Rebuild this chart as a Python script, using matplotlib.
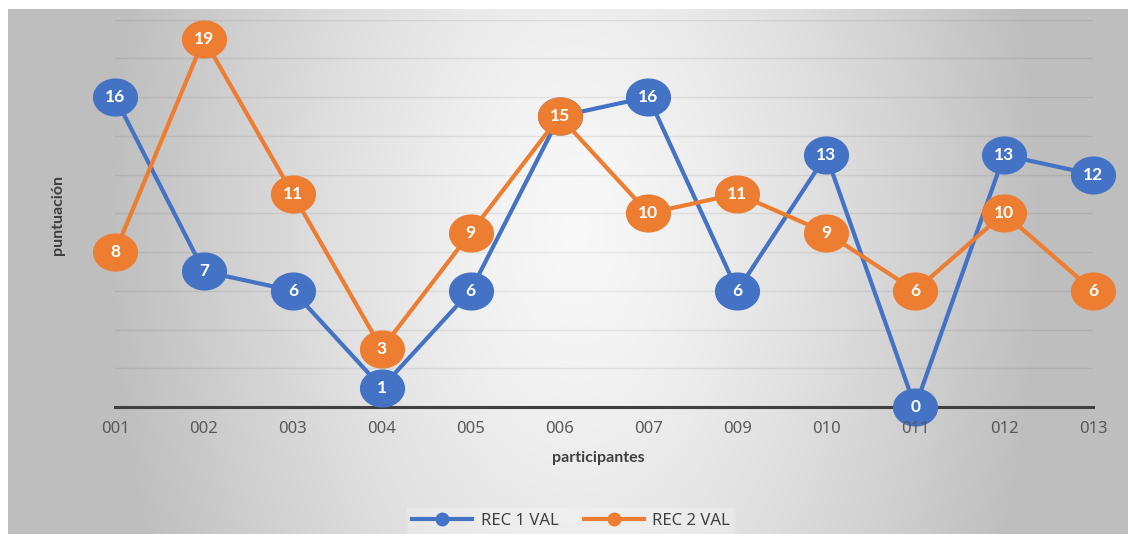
import numpy as np
import matplotlib
matplotlib.use("Agg")
import matplotlib.pyplot as plt
from matplotlib.path import Path
from matplotlib.lines import Line2D

categories = ["001", "002", "003", "004", "005", "006", "007", "009", "010", "011", "012", "013"]
rec1 = [16, 7, 6, 1, 6, 15, 16, 6, 13, 0, 13, 12]
rec2 = [8, 19, 11, 3, 9, 15, 10, 11, 9, 6, 10, 6]
series_names = ["REC 1 VAL", "REC 2 VAL"]
colors = ["#4472C4", "#ED7D31"]

plt.rcParams['font.family'] = ['Noto Sans', 'DejaVu Sans']
BOLD = ['Lato', 'DejaVu Sans']

W, H = 1128, 534
fig = plt.figure(figsize=(W / 100, H / 100), dpi=100)

# background radial gradient
bg = fig.add_axes([8 / W, 0, 1 - 8 / W, (H - 9) / H])
bg.set_axis_off()
xs = np.arange(8, W)
ys = np.arange(9, H)
X, Y = np.meshgrid(xs, ys)
cx, cy, rx, ry = 575, 230, 460, 800
r = np.sqrt(((X - cx) / rx) ** 2 + ((Y - cy) / ry) ** 2)
r = np.clip(r, 0, 1)
v = 0.975 - (0.975 - 0.749) * r ** 1.3
img = np.dstack([v, v, v])
bg.imshow(img, aspect='auto', extent=[0, 1, 0, 1], interpolation='bilinear')
bg.set_xlim(0, 1)
bg.set_ylim(0, 1)

left = 115 / W
right = 1093 / W
bottom = (H - 407) / H
top = (H - 19.5) / H
ax = fig.add_axes([left, bottom, right - left, top - bottom])
ax.patch.set_alpha(0)

x = np.arange(len(categories))
ax.set_xlim(0, len(categories) - 1)
ax.set_ylim(0, 20)
ax.set_yticks(np.arange(0, 21, 2))
ax.yaxis.grid(True, color='black', alpha=0.07, linewidth=1)
ax.set_axisbelow(True)
ax.tick_params(axis='y', left=False, labelleft=False)
ax.tick_params(axis='x', length=0, labelbottom=False)
for s in ['left', 'right', 'top']:
    ax.spines[s].set_visible(False)
ax.spines['bottom'].set_color('#404040')
ax.spines['bottom'].set_linewidth(2.2)
ax.spines['bottom'].set_zorder(2)
ax.set_xticks(x)

# category labels drawn above the markers
xform = ax.get_xaxis_transform()
for xi, cat in zip(x, categories):
    ax.text(xi, -0.035, cat, transform=xform, ha='center', va='top', fontsize=12,
            color='#595959', zorder=10, clip_on=False)

# ellipse marker
t = np.linspace(0, 2 * np.pi, 60)
verts = np.column_stack([np.cos(t), 0.84 * np.sin(t)])
ell = Path(verts, closed=True)

for i, (vals, c) in enumerate(zip([rec1, rec2], colors)):
    ax.plot(x, vals, color=c, linewidth=3, marker=ell, markersize=31.5,
            markerfacecolor=c, markeredgecolor=c, clip_on=False, zorder=3 + 2 * i)
    for xi, yi in zip(x, vals):
        ax.text(xi, yi, str(yi), ha='center', va='center', color='white',
                fontsize=12.5, fontweight='bold', family=BOLD, zorder=4 + 2 * i, clip_on=False)

fig.text(598 / W, (H - 458) / H, 'participantes', ha='center', va='center',
         fontsize=11.5, fontweight='bold', family=BOLD, color='#404040')
fig.text(58 / W, (H - 215) / H, 'puntuación', rotation=90, ha='center', va='center',
         fontsize=11.5, fontweight='bold', family=BOLD, color='#404040')

handles = [Line2D([0], [0], color=c, linewidth=3, marker='o', markersize=9,
                  markerfacecolor=c, markeredgecolor=c) for c in colors]
leg = fig.legend(handles, series_names, loc='center', bbox_to_anchor=(571 / W, (H - 521) / H),
                 ncol=2, frameon=True, fontsize=12, handlelength=3.6, columnspacing=1.5,
                 borderpad=0.3, handletextpad=0.5)
leg.get_frame().set_facecolor('white')
leg.get_frame().set_alpha(0.25)
leg.get_frame().set_edgecolor('none')
leg.get_frame().set_boxstyle('square', pad=0)
for t_ in leg.get_texts():
    t_.set_color('#404040')

fig.savefig('out.png', dpi=100)
